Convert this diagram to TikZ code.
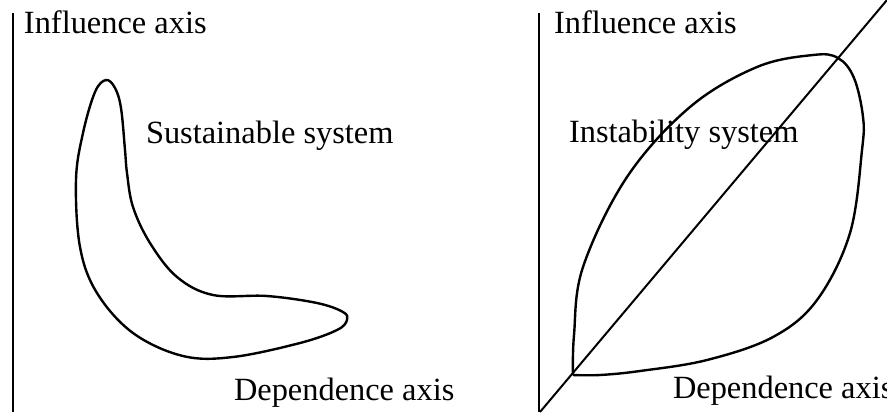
\documentclass[tikz,border=0pt]{standalone}
\usepackage{fontspec}
\setmainfont{Liberation Serif}
\usepackage{tikz}
\usetikzlibrary{positioning, calc}

\begin{document}
\begin{tikzpicture}[x=0.5pt, y=-0.5pt, line width=1pt]
        \tikzstyle{label} = [anchor=base west, inner sep=0pt, font=\fontsize{16.2}{19}\selectfont]
        \tikzstyle{curve} = [line width=1.2pt, line join=round]

        % cadrul
        \clip (0,0) rectangle (887,412);

        % Panou stanga - sistem stabil
        \coordinate (axL0) at (13,412);
        \coordinate (axL1) at (13,13);
        \draw (axL0) -- (axL1);
        \node [label] (inflL) at (23,33) {Influence axis};
        \node [label] (sust) at (145,143) {Sustainable system};
        \node [label] (depL) at (233,400) {Dependence axis};
        \draw [curve] plot [smooth cycle, tension=0.6] coordinates {
            (106,80) (115,88) (121,108) (125,150) (127,173) (133,207) (150,243)
            (177,277) (213,295) (267,296) (317,303) (343,312) (347,320) (337,330)
            (300,343) (233,357) (183,356) (133,333) (97,293) (80,247) (76,180)
            (83,133) (95,92)};

        % Panou dreapta - sistem instabil
        \coordinate (axR0) at (539,412);
        \coordinate (axR1) at (539,13);
        \coordinate (diag0) at (540,412);
        \coordinate (diag1) at (887,0);
        \draw (axR0) -- (axR1);
        \draw (diag0) -- (diag1);
        \node [label] (inflR) at (553,33) {Influence axis};
        \node [label] (inst) at (568,142) {Instability system};
        \node [label] (depR) at (672,398) {Dependence axis};
        \draw [curve] plot [smooth, tension=0.6] coordinates {
            (573,375) (574,335) (583,267) (627,177) (690,107) (757,67) (813,55)
            (838,58) (854,78) (863,117) (862,150) (850,233) (817,300) (773,337)
            (707,360) (640,371) (600,375) (573,375)};

    \end{tikzpicture}
\end{document}
